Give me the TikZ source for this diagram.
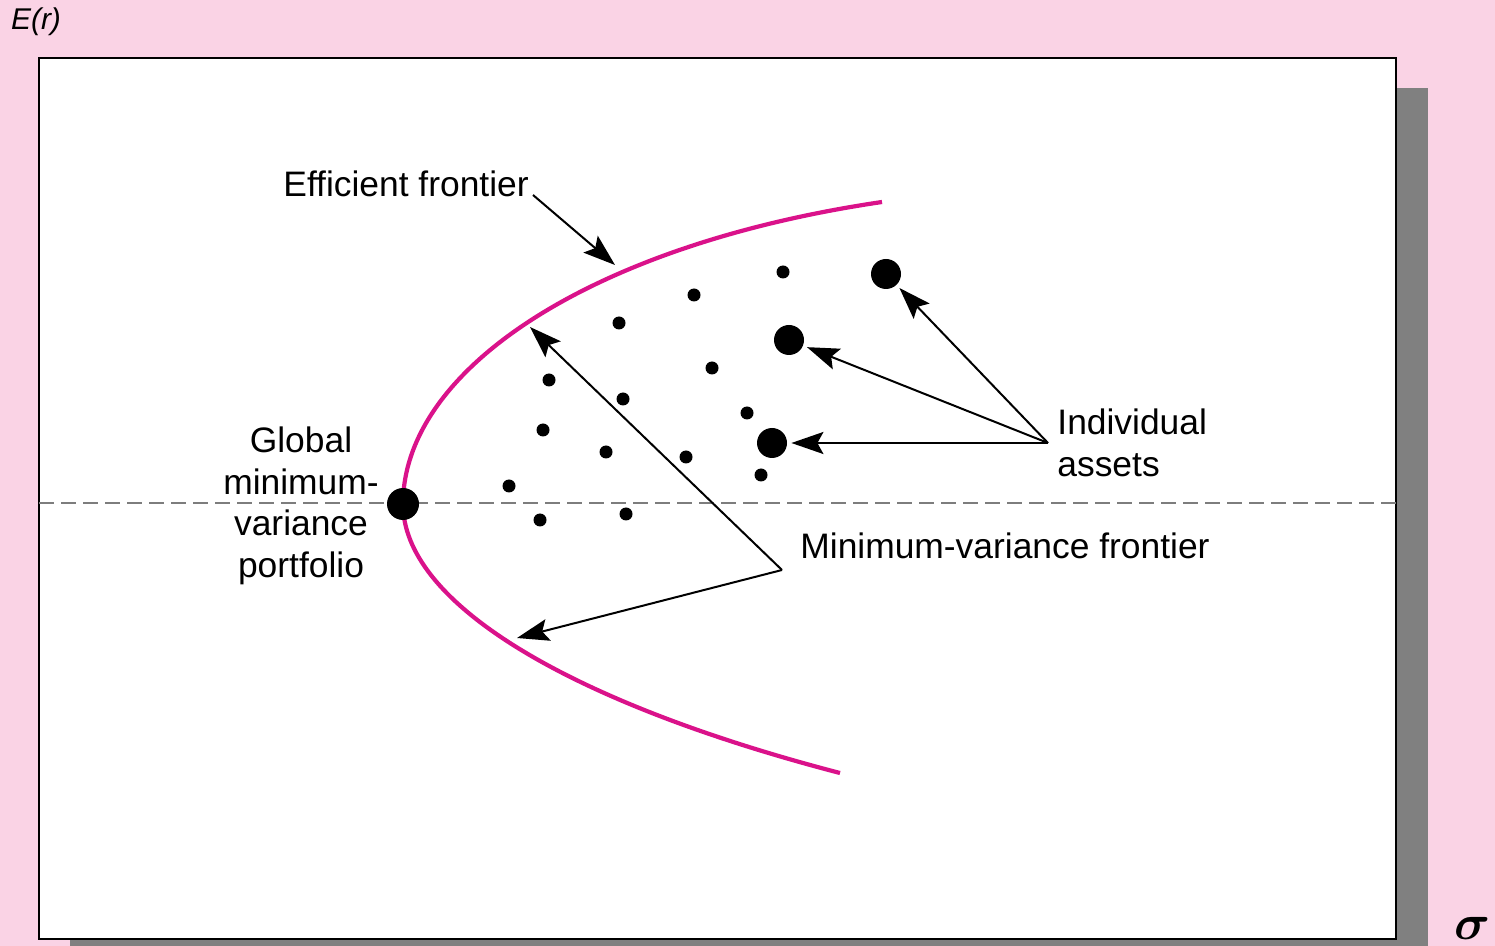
\documentclass[tikz,border=0pt]{standalone}
\usepackage{fontspec}
\setmainfont{Liberation Sans}
\usetikzlibrary{arrows.meta}
\definecolor{bgpink}{RGB}{250,211,229}
\definecolor{curvemag}{RGB}{218,18,138}
\definecolor{shadowgray}{RGB}{128,128,128}
\definecolor{dashgray}{RGB}{125,125,125}
\begin{document}
\begin{tikzpicture}[x=0.5pt,y=-0.5pt,
  lbl/.style={font=\fontsize{17.7}{20.75}\selectfont, inner sep=0pt},
  dot/.style={circle, fill=black, inner sep=0pt, minimum size=6.5pt},
  bigdot/.style={circle, fill=black, inner sep=0pt, minimum size=15pt},
  pointer/.style={draw=black, line width=1pt, -{Stealth[length=16pt,width=11pt,inset=3pt]}},
  frontier/.style={draw=curvemag, line width=2.1pt},
]
\useasboundingbox (0,0) rectangle (1495,946);
\fill[bgpink] (0,0) rectangle (1495,946);
\begin{scope}
  \clip (0,0) rectangle (1495,946);
  \fill[shadowgray] (70,88) rectangle (1428,990);
\end{scope}
\draw[fill=white, line width=1.2pt] (39,58) rectangle (1396,939);
\draw[dashgray, line width=1pt, dash pattern=on 7.5pt off 3.5pt] (39,503) -- (1396,503);

% frontier curve
\coordinate (top) at (882,202);
\coordinate (vtx) at (403,504);
\coordinate (bot) at (840,773);
\draw[frontier] (top) .. controls (590,245) and (403,370) .. (vtx)
                      .. controls (403,600) and (560,700) .. (bot);

% axis labels
\node[font=\fontsize{15}{18}\selectfont\itshape, inner sep=0pt] (er) at (36,22) {E(r)};
\node[font=\fontsize{25}{30}\selectfont\boldmath, inner sep=0pt] (sig) at (1472,928) {$\sigma$};

% small dots
\node[dot] (d1) at (783,272) {};
\node[dot] (d2) at (694,295) {};
\node[dot] (d3) at (619,323) {};
\node[dot] (d4) at (549,380) {};
\node[dot] (d5) at (712,368) {};
\node[dot] (d6) at (623,399) {};
\node[dot] (d7) at (747,413) {};
\node[dot] (d8) at (543,430) {};
\node[dot] (d9) at (606,452) {};
\node[dot] (d10) at (686,457) {};
\node[dot] (d11) at (761,475) {};
\node[dot] (d12) at (509,486) {};
\node[dot] (d13) at (540,520) {};
\node[dot] (d14) at (626,514) {};

% big dots
\node[bigdot] (b1) at (886,274) {};
\node[bigdot] (b2) at (789,340) {};
\node[bigdot] (b3) at (772,443) {};
\node[bigdot, minimum size=16pt] (gmv) at (vtx) {};

% labels
\node[lbl, anchor=base west] (ef) at (283,197) {Efficient frontier};
\node[lbl, align=center] (gl) at (301,506) {Global\\minimum-\\variance\\portfolio};
\node[lbl, align=left, anchor=west] (ia) at (1057,443) {Individual\\assets};
\node[lbl, anchor=base west] (mv) at (800,559) {Minimum-variance frontier};

% connector anchors
\coordinate (efS) at (533,195);
\coordinate (efT) at (615,265);
\coordinate (mvS) at (782,570);
\coordinate (mvT1) at (530,327);
\coordinate (mvT2) at (517,638);
\coordinate (iaS) at (1048,443);

\draw[pointer] (efS) -- (efT);
\draw[pointer] (mvS) -- (mvT1);
\draw[pointer] (mvS) -- (mvT2);
\draw[pointer, shorten >=2pt] (iaS) -- (b1);
\draw[pointer, shorten >=2pt] (iaS) -- (b2);
\draw[pointer, shorten >=2pt] (iaS) -- (b3);
\end{tikzpicture}
\end{document}
